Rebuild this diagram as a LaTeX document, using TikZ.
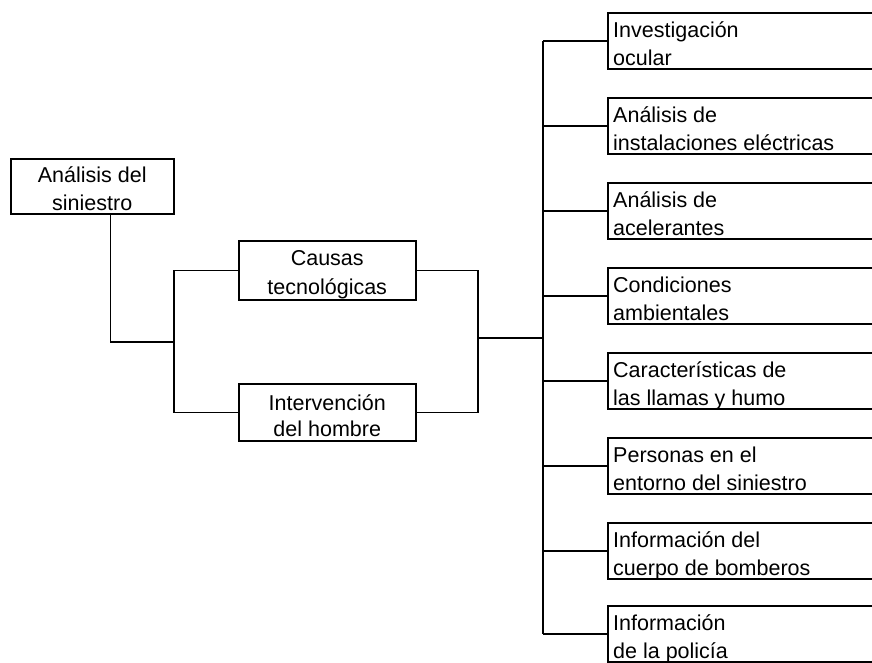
\documentclass[tikz,border=0pt]{standalone}
\usepackage{fontspec}
\setmainfont{Liberation Sans}
\usetikzlibrary{calc}

\tikzset{
  conn/.style={line width=1.5pt, black},
  box/.style={draw, line width=1.5pt, rectangle, inner sep=0pt, anchor=north west},
  txt/.style={font=\fontsize{21.5}{25}\selectfont, inner sep=0pt},
}

% right-hand item: name, top edge, first line, second line
\newcommand\itembox[4]{%
  \node[box, minimum width=280pt, minimum height=56pt] (#1) at (607,#2) {};
  \node[txt, anchor=base west] (#1a) at ($(#1.north west)+(6,25)$) {#3};
  \node[txt, anchor=base west] (#1b) at ($(#1.south west)+(6,-4)$) {#4};
}

\begin{document}
\begin{tikzpicture}[x=1pt,y=-1pt]
\useasboundingbox (0,0) rectangle (872,662);
\clip (0,0) rectangle (872,662);

% root
\node[box, minimum width=163pt, minimum height=55pt] (ana) at (10,158) {};
\node[txt, anchor=base] (anaa) at ($(ana.north)+(0,24)$) {Análisis del};
\node[txt, anchor=base] (anab) at ($(ana.south)+(0,-4)$) {siniestro};

% two causes
\node[box, minimum width=177pt, minimum height=59pt] (caus) at (238,240) {};
\node[txt, anchor=base] (causa) at ($(caus.north)+(0,25)$) {Causas};
\node[txt, anchor=base] (causb) at ($(caus.south)+(0,-6)$) {tecnológicas};

\node[box, minimum width=177pt, minimum height=57pt] (inter) at (238,383) {};
\node[txt, anchor=base] (intera) at ($(inter.north)+(0,27)$) {Intervención};
\node[txt, anchor=base] (interb) at ($(inter.south)+(0,-5)$) {del hombre};

% aspects examined
\itembox{r1}{12}{Investigación}{ocular}
\itembox{r2}{97}{Análisis de}{instalaciones eléctricas}
\itembox{r3}{182}{Análisis de}{acelerantes}
\itembox{r4}{267}{Condiciones}{ambientales}
\itembox{r5}{352}{Características de}{las llamas y humo}
\itembox{r6}{437}{Personas en el}{entorno del siniestro}
\itembox{r7}{522}{Información del}{cuerpo de bomberos}
\itembox{r8}{605}{Información}{de la policía}

% junctions
\coordinate (lj) at (174,342);
\coordinate (rj) at (478,338);
\coordinate (bus) at (543,338);

% connectors on the left
\draw[conn] ($(ana.south)+(18,0)$) |- (lj);
\draw[conn] (caus.west) -| (lj);
\draw[conn] (inter.west) -| (lj);

% connectors on the right
\draw[conn] (caus.east) -| (rj);
\draw[conn] (inter.east) -| (rj);
\draw[conn] (rj) -- (bus);
\draw[conn] (r1.west -| bus) -- (r8.west -| bus);
\foreach \r in {r1,r2,r3,r4,r5,r6,r7,r8}
  \draw[conn] (\r.west -| bus) -- (\r.west);
\end{tikzpicture}
\end{document}
